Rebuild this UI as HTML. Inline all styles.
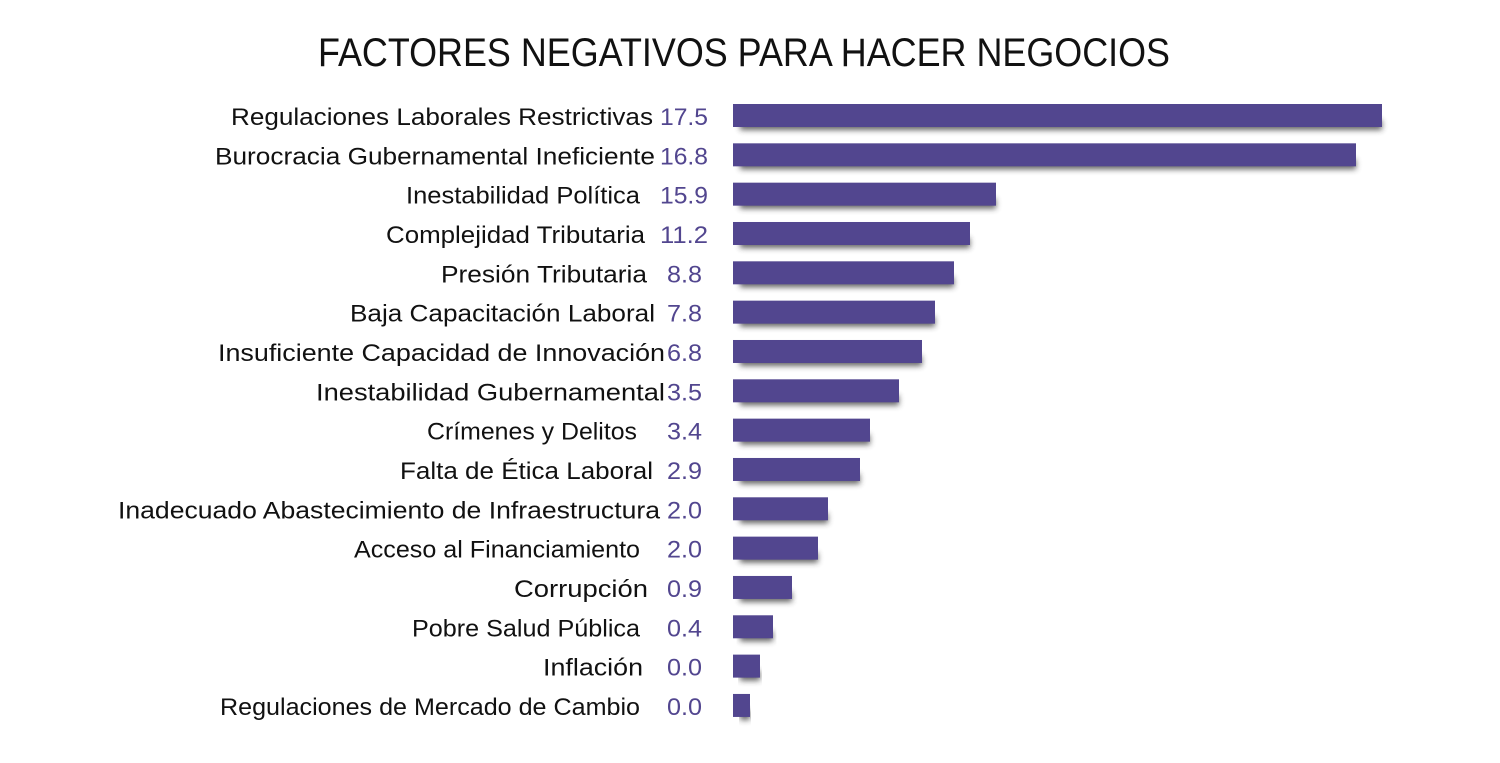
<!DOCTYPE html>
<html><head><meta charset="utf-8"><style>
html,body{margin:0;padding:0;background:#fff;}
svg{display:block}
text{font-family:"Liberation Sans",sans-serif;}
</style></head><body>
<svg width="1500" height="763" viewBox="0 0 1500 763" xmlns="http://www.w3.org/2000/svg">
<defs>
<filter id="sh" x="-10%" y="-100%" width="120%" height="300%">
<feGaussianBlur stdDeviation="3"/>
</filter>
</defs>
<text x="318" y="66" font-size="40" textLength="852" lengthAdjust="spacingAndGlyphs" fill="#111">FACTORES NEGATIVOS PARA HACER NEGOCIOS</text>
<g id="bars"></g>
<script>
var rows=[
["Regulaciones Laborales Restrictivas",231,653,"17.5",1382],
["Burocracia Gubernamental Ineficiente",215,655,"16.8",1356],
["Inestabilidad Política",406,640,"15.9",996],
["Complejidad Tributaria",386,645,"11.2",970],
["Presión Tributaria",441,647,"8.8",954],
["Baja Capacitación Laboral",350,655,"7.8",935],
["Insuficiente Capacidad de Innovación",218,665,"6.8",922],
["Inestabilidad Gubernamental",316,665,"3.5",899],
["Crímenes y Delitos",427,637,"3.4",870],
["Falta de Ética Laboral",400,653,"2.9",860],
["Inadecuado Abastecimiento de Infraestructura",118,660,"2.0",828],
["Acceso al Financiamiento",354,640,"2.0",818],
["Corrupción",514,648,"0.9",792],
["Pobre Salud Pública",412,640,"0.4",773],
["Inflación",543,643,"0.0",760],
["Regulaciones de Mercado de Cambio",220,640,"0.0",750]];
var ns="http://www.w3.org/2000/svg",g=document.getElementById("bars");
function el(n,a,t){var e=document.createElementNS(ns,n);for(var k in a)e.setAttribute(k,a[k]);if(t)e.textContent=t;g.appendChild(e);return e;}
rows.forEach(function(r,i){
 var cy=116+i*39.33;
 el("rect",{x:740,y:cy+4,width:r[4]-740,height:10,fill:"#333",filter:"url(#sh)",opacity:0.75});
 el("rect",{x:733,y:cy-12,width:r[4]-733,height:23,fill:"#52468f"});
 el("text",{x:r[1],y:cy+9,"font-size":24,textLength:r[2]-r[1],lengthAdjust:"spacingAndGlyphs",fill:"#111"},r[0]);
 var vx=r[3].length==4?660:667, vw=r[3].length==4?48:35;
 el("text",{x:vx,y:cy+9,"font-size":24,textLength:vw,lengthAdjust:"spacingAndGlyphs",fill:"#52468f"},r[3]);
});
</script>
</svg>
</body></html>
